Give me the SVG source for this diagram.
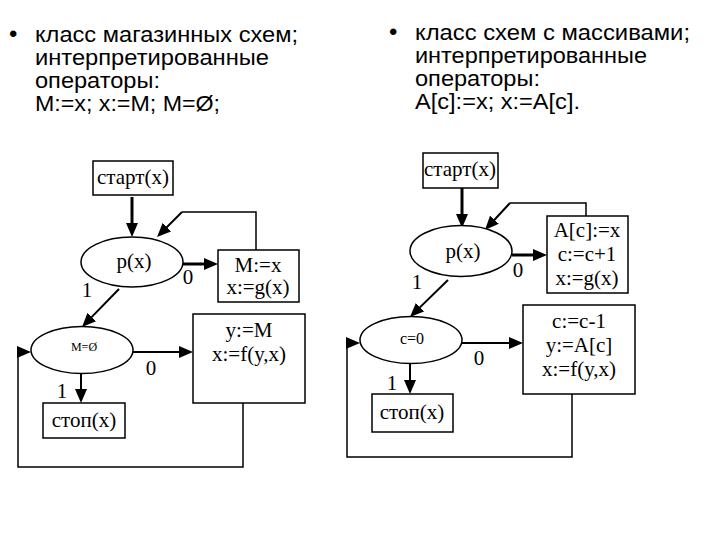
<svg xmlns="http://www.w3.org/2000/svg" width="720" height="540" viewBox="0 0 720 540">
<style>
.hd{font-family:"Liberation Sans",Arial,sans-serif;font-size:22px;fill:#000}
.t{font-family:"Liberation Serif","Times New Roman",serif;font-size:21px;fill:#000;text-anchor:middle}
.sm{font-family:"Liberation Serif","Times New Roman",serif;fill:#000;text-anchor:middle}
.box{fill:#fff;stroke:#000;stroke-width:1.5}
.thick{fill:none;stroke:#000;stroke-width:3}
.mid{fill:none;stroke:#000;stroke-width:2}
.thin{fill:none;stroke:#000;stroke-width:1.5}
</style>
<defs>
<marker id="ah" markerWidth="14" markerHeight="12" refX="2" refY="6" orient="auto" markerUnits="userSpaceOnUse">
<path d="M0,0 L14,6 L0,12 z" fill="#000"/>
</marker>
</defs>
<rect width="720" height="540" fill="#fff"/>
<g id="header-left" class="hd">
<text x="9" y="42" font-size="24">•</text>
<text x="35" y="42" textLength="263" lengthAdjust="spacingAndGlyphs">класс магазинных схем;</text>
<text x="35" y="65" textLength="234" lengthAdjust="spacingAndGlyphs">интерпретированные</text>
<text x="35" y="88" textLength="125" lengthAdjust="spacingAndGlyphs">операторы:</text>
<text x="35" y="111" textLength="185" lengthAdjust="spacingAndGlyphs">M:=x; x:=M; M=Ø;</text>
</g>
<g id="header-right" class="hd">
<text x="389" y="40" font-size="24">•</text>
<text x="415" y="40" textLength="275" lengthAdjust="spacingAndGlyphs">класс схем с массивами;</text>
<text x="415" y="63" textLength="232" lengthAdjust="spacingAndGlyphs">интерпретированные</text>
<text x="415" y="86" textLength="125" lengthAdjust="spacingAndGlyphs">операторы:</text>
<text x="415" y="109" textLength="165" lengthAdjust="spacingAndGlyphs">A[c]:=x; x:=A[c].</text>
</g>
<g id="connectors">
<line class="thick" x1="132" y1="197" x2="132" y2="225" marker-end="url(#ah)"/>
<line class="thick" x1="183" y1="264" x2="206" y2="264" marker-end="url(#ah)"/>
<polyline class="thin" points="256,250 256,212 182,212"/>
<line class="mid" x1="182" y1="212" x2="165.5" y2="228.5" marker-end="url(#ah)"/>
<line class="mid" x1="119" y1="289" x2="90.4" y2="318.4" marker-end="url(#ah)"/>
<line class="mid" x1="133" y1="352" x2="181" y2="352" marker-end="url(#ah)"/>
<line class="mid" x1="81" y1="374" x2="81" y2="391" marker-end="url(#ah)"/>
<polyline class="thin" points="243,403 243,467 18,467 18,352 19,352" marker-end="url(#ah)"/>
<line class="thick" x1="462" y1="188" x2="462" y2="216" marker-end="url(#ah)"/>
<line class="thick" x1="512" y1="255" x2="535" y2="255" marker-end="url(#ah)"/>
<polyline class="thin" points="586,216 586,203 510,203"/>
<line class="mid" x1="510" y1="203" x2="493.1" y2="221.2" marker-end="url(#ah)"/>
<line class="mid" x1="448" y1="280" x2="418.6" y2="308.6" marker-end="url(#ah)"/>
<line class="mid" x1="462" y1="343" x2="511" y2="343" marker-end="url(#ah)"/>
<line class="mid" x1="410" y1="364" x2="410" y2="382" marker-end="url(#ah)"/>
<polyline class="thin" points="572,394 572,457 347,457 347,343 348,343" marker-end="url(#ah)"/>
</g>
<g id="labels-left" class="t">
<text x="188" y="284">0</text>
<text x="87" y="297">1</text>
<text x="151" y="375">0</text>
<text x="62" y="398">1</text>
</g>
<g id="labels-right" class="t">
<text x="518" y="277">0</text>
<text x="417" y="289">1</text>
<text x="479" y="365">0</text>
<text x="392" y="390">1</text>
</g>
<g id="start-left">
<rect class="box" x="93" y="161" width="80" height="34"/>
<text class="t" x="133" y="184">старт(x)</text>
</g>
<g id="px-left">
<ellipse class="box" cx="132" cy="262" rx="51" ry="25"/>
<text class="t" x="134" y="268">p(x)</text>
</g>
<g id="mx-left">
<rect class="box" x="218" y="250" width="81" height="52"/>
<text class="t" x="258" y="272">M:=x</text>
<text class="t" x="258" y="294">x:=g(x)</text>
</g>
<g id="mempty-left">
<ellipse class="box" cx="82" cy="350" rx="51" ry="23.5"/>
<text class="sm" x="84" y="351" font-size="12">M=Ø</text>
</g>
<g id="ym-left">
<rect class="box" x="193" y="314" width="112" height="89"/>
<text class="t" x="249" y="337">y:=M</text>
<text class="t" x="249" y="361">x:=f(y,x)</text>
</g>
<g id="stop-left">
<rect class="box" x="43" y="403" width="82" height="35"/>
<text class="t" x="84" y="427">стоп(x)</text>
</g>
<g id="start-right">
<rect class="box" x="423" y="153" width="75" height="35"/>
<text class="t" x="460" y="176">старт(x)</text>
</g>
<g id="px-right">
<ellipse class="box" cx="461" cy="251" rx="51" ry="25.5"/>
<text class="t" x="463" y="258">p(x)</text>
</g>
<g id="ac-right">
<rect class="box" x="547" y="216" width="81" height="77"/>
<text class="t" x="587" y="237">A[c]:=x</text>
<text class="t" x="587" y="261">c:=c+1</text>
<text class="t" x="587" y="285">x:=g(x)</text>
</g>
<g id="c0-right">
<ellipse class="box" cx="411" cy="340" rx="51" ry="23.5"/>
<text class="sm" x="412" y="344" font-size="16">c=0</text>
</g>
<g id="cy-right">
<rect class="box" x="523" y="305" width="112" height="89"/>
<text class="t" x="579" y="328">c:=c-1</text>
<text class="t" x="579" y="352">y:=A[c]</text>
<text class="t" x="579" y="376">x:=f(y,x)</text>
</g>
<g id="stop-right">
<rect class="box" x="372" y="394" width="81" height="38"/>
<text class="t" x="412" y="419">стоп(x)</text>
</g>
</svg>
